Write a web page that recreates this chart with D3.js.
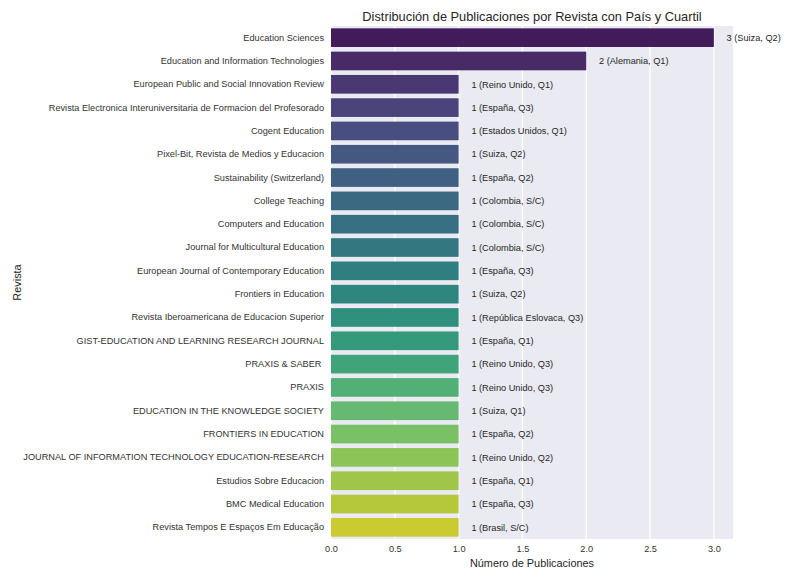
<!DOCTYPE html>
<html>
<head>
<meta charset="utf-8">
<script src="https://cdn.jsdelivr.net/npm/d3@7"></script>
<style>
  body { margin: 0; background: #fff; }
  text { font-family: "Liberation Sans", Arial, sans-serif; }
</style>
</head>
<body>
<div id="chart"></div>
<script>
const revistas = [
  'Education Sciences',
  'Education and Information Technologies',
  'European Public and Social Innovation Review',
  'Revista Electronica Interuniversitaria de Formacion del Profesorado',
  'Cogent Education',
  'Pixel-Bit, Revista de Medios y Educacion',
  'Sustainability (Switzerland)',
  'College Teaching',
  'Computers and Education',
  'Journal for Multicultural Education',
  'European Journal of Contemporary Education',
  'Frontiers in Education',
  'Revista Iberoamericana de Educacion Superior',
  'GIST-EDUCATION AND LEARNING RESEARCH JOURNAL',
  'PRAXIS & SABER ',
  'PRAXIS',
  'EDUCATION IN THE KNOWLEDGE SOCIETY',
  'FRONTIERS IN EDUCATION',
  'JOURNAL OF INFORMATION TECHNOLOGY EDUCATION-RESEARCH',
  'Estudios Sobre Educacion',
  'BMC Medical Education',
  'Revista Tempos E Espaços Em Educação'
];
const publicaciones = [3, 2, 1, 1, 1, 1, 1, 1, 1, 1, 1, 1, 1, 1, 1, 1, 1, 1, 1, 1, 1, 1];
const paises = [
  'Suiza', 'Alemania', 'Reino Unido', 'España', 'Estados Unidos', 'Suiza', 'España',
  'Colombia', 'Colombia', 'Colombia', 'España', 'Suiza', 'República Eslovaca', 'España',
  'Reino Unido', 'Reino Unido', 'Suiza', 'España', 'Reino Unido', 'España', 'España', 'Brasil'
];
const cuartiles = [
  'Q2', 'Q1', 'Q1', 'Q3', 'Q1', 'Q2', 'Q2', 'S/C', 'S/C', 'S/C', 'Q3', 'Q2', 'Q3', 'Q1',
  'Q3', 'Q3', 'Q1', 'Q2', 'Q2', 'Q1', 'Q3', 'S/C'
];
const xTicks = [0, 0.5, 1, 1.5, 2, 2.5, 3];

const w = 790;
const h = 580;
const margin = { top: 26, right: 57, bottom: 41, left: 331 };
const innerW = w - margin.left - margin.right;
const innerH = h - margin.top - margin.bottom;

const rows = revistas.map((r, i) => ({
  revista: r,
  n: publicaciones[i],
  label: `${publicaciones[i]} (${paises[i]}, ${cuartiles[i]})`
}));

// seaborn-like viridis palette, desaturated 0.75
const color = (i) => {
  const c = d3.hsl(d3.interpolateViridis((i + 1) / (revistas.length + 1)));
  c.s *= 0.75;
  return c.formatHex();
};

const scaleX = d3.scaleLinear().domain([0, 3.15]).range([0, innerW]);
const scaleY = d3.scaleBand().domain(revistas).range([0, innerH]).paddingInner(0.2).paddingOuter(0.1);

const svg = d3.select('#chart').append('svg').attr('width', w).attr('height', h);
const g = svg.append('g').attr('transform', `translate(${margin.left}, ${margin.top})`);

g.append('rect').attr('width', innerW).attr('height', innerH).attr('fill', '#eaeaf2');

g.append('g')
  .selectAll('line')
  .data(xTicks)
  .enter()
  .append('line')
  .attr('x1', (d) => scaleX(d))
  .attr('x2', (d) => scaleX(d))
  .attr('y1', 0)
  .attr('y2', innerH)
  .attr('stroke', '#fff')
  .attr('stroke-width', 1.3);

g.append('g')
  .selectAll('rect')
  .data(rows)
  .enter()
  .append('rect')
  .attr('x', scaleX(0))
  .attr('y', (d) => scaleY(d.revista))
  .attr('width', (d) => scaleX(d.n) - scaleX(0))
  .attr('height', scaleY.bandwidth())
  .attr('fill', (d, i) => color(i));

g.append('g')
  .selectAll('text')
  .data(rows)
  .enter()
  .append('text')
  .attr('x', (d) => scaleX(d.n + 0.1))
  .attr('y', (d) => scaleY(d.revista) + scaleY.bandwidth() / 2)
  .attr('dy', '0.35em')
  .attr('font-size', 9.2)
  .attr('fill', '#262626')
  .text((d) => d.label);

const axisX = d3.axisBottom(scaleX).tickValues(xTicks).tickFormat(d3.format('.1f')).tickSize(0).tickPadding(6);
const gx = g.append('g').attr('transform', `translate(0, ${innerH})`).call(axisX);
gx.select('.domain').remove();
gx.selectAll('text').attr('font-size', 9.2).attr('fill', '#333').style('font-family', '"Liberation Sans", Arial, sans-serif');

const axisY = d3.axisLeft(scaleY).tickSize(0).tickPadding(7);
const gy = g.append('g').call(axisY);
gy.select('.domain').remove();
gy.selectAll('text')
  .attr('font-size', 9.2)
  .attr('fill', '#333')
  .attr('xml:space', 'preserve')
  .style('white-space', 'pre')
  .style('font-family', '"Liberation Sans", Arial, sans-serif');

svg.append('text')
  .attr('x', margin.left + innerW / 2)
  .attr('y', 21)
  .attr('text-anchor', 'middle')
  .attr('font-size', 12.8)
  .attr('fill', '#262626')
  .text('Distribución de Publicaciones por Revista con País y Cuartil');

svg.append('text')
  .attr('x', margin.left + innerW / 2)
  .attr('y', 567)
  .attr('text-anchor', 'middle')
  .attr('font-size', 10.9)
  .attr('fill', '#262626')
  .text('Número de Publicaciones');

svg.append('text')
  .attr('transform', `translate(21, ${margin.top + innerH / 2}) rotate(-90)`)
  .attr('text-anchor', 'middle')
  .attr('font-size', 10.9)
  .attr('fill', '#262626')
  .text('Revista');
</script>
</body>
</html>
